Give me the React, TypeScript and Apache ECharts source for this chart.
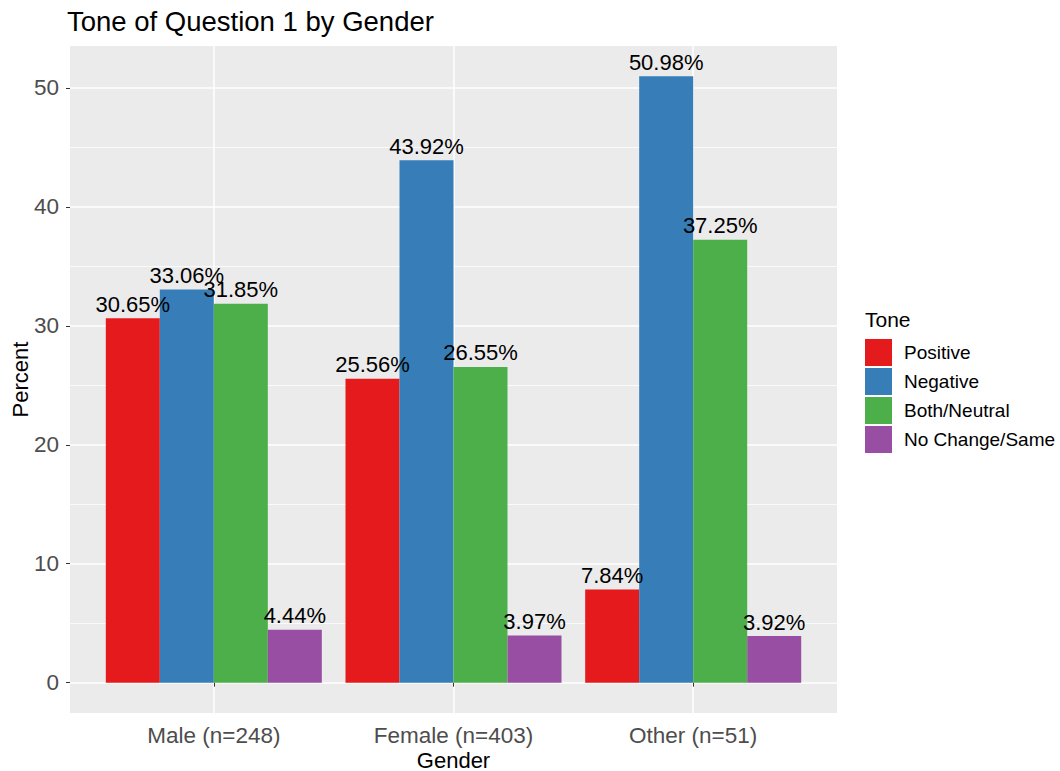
import React, { useEffect, useRef } from "react";
import * as echarts from "echarts";

const categories = ["Male (n=248)", "Female (n=403)", "Other (n=51)"];
const toneNames = ["Positive", "Negative", "Both/Neutral", "No Change/Same"];
const positive = [30.65, 25.56, 7.84];
const negative = [33.06, 43.92, 50.98];
const neutral = [31.85, 26.55, 37.25];
const noChange = [4.44, 3.97, 3.92];
const toneColors = ["#E41A1C", "#377EB8", "#4DAF4A", "#984EA3"];
const yMajor = [0, 10, 20, 30, 40, 50];
const yMinor = [5, 15, 25, 35, 45];
const xPositions = [1, 2, 3];

const FONT = "Liberation Sans, Arial, sans-serif";

export default function App() {
  const ref = useRef<HTMLDivElement>(null);
  useEffect(() => {
    if (!ref.current) return;
    const chart = echarts.init(ref.current, null, { renderer: "svg" });
    const seriesValues = [positive, negative, neutral, noChange];
    const yMin = -2.55;
    const yMax = 53.53;
    chart.setOption({
      animation: false,
      backgroundColor: "#ffffff",
      textStyle: { fontFamily: FONT },
      title: [
        {
          text: "Tone of Question 1 by Gender",
          left: 67,
          top: 7,
          padding: 0,
          textStyle: { fontSize: 27.5, fontWeight: "normal", color: "#000", fontFamily: FONT },
        },
        {
          text: "Tone",
          left: 865,
          top: 309,
          padding: 0,
          textStyle: { fontSize: 21, fontWeight: "normal", color: "#000", fontFamily: FONT },
        },
      ],
      legend: {
        data: toneNames,
        orient: "vertical",
        left: 865,
        top: 339,
        padding: 0,
        icon: "rect",
        itemWidth: 27,
        itemHeight: 27,
        itemGap: 2,
        textStyle: { fontSize: 19, color: "#000", fontFamily: FONT, padding: [0, 0, 0, 7] },
      },
      grid: {
        left: 70,
        right: 223,
        top: 46,
        bottom: 58,
        show: true,
        backgroundColor: "#EBEBEB",
        borderWidth: 0,
        outerBoundsMode: "none",
        containLabel: false,
      },
      xAxis: {
        type: "value",
        min: 0.4,
        max: 3.6,
        axisLine: { show: false },
        axisTick: { show: true, customValues: xPositions, length: 4, lineStyle: { color: "#333333" } },
        axisLabel: {
          customValues: xPositions,
          formatter: (v: number) => categories[Math.round(v) - 1] ?? "",
          fontSize: 22.5,
          color: "#4D4D4D",
          margin: 11,
          fontFamily: FONT,
        },
        splitLine: { show: true, lineStyle: { color: "#ffffff", width: 1.5 } },
        name: "Gender",
        nameLocation: "middle",
        nameGap: 36,
        nameMoveOverlap: false,
        nameTextStyle: { fontSize: 22, color: "#000", fontFamily: FONT },
      },
      yAxis: [
        {
          type: "value",
          min: yMin,
          max: yMax,
          axisLine: { show: false },
          axisTick: { show: true, customValues: yMajor, length: 4, lineStyle: { color: "#333333" } },
          axisLabel: { customValues: yMajor, fontSize: 22.5, color: "#4D4D4D", margin: 11, fontFamily: FONT },
          splitLine: { show: true, lineStyle: { color: "#ffffff", width: 1.5 } },
          name: "Percent",
          nameLocation: "middle",
          nameGap: 39,
          nameMoveOverlap: false,
          nameTextStyle: { fontSize: 22, color: "#000", fontFamily: FONT },
        },
        {
          type: "value",
          min: yMin,
          max: yMax,
          position: "left",
          axisLine: { show: false },
          axisTick: { show: false, customValues: yMinor },
          axisLabel: { show: false, customValues: yMinor },
          splitLine: { show: true, lineStyle: { color: "#ffffff", width: 0.75 } },
        },
      ],
      series: toneNames.map((name, si) => ({
        name,
        type: "bar",
        xAxisIndex: 0,
        yAxisIndex: 0,
        barWidth: 54,
        barGap: "0%",
        itemStyle: { color: toneColors[si] },
        data: seriesValues[si].map((v, i) => [xPositions[i], v]),
        label: {
          show: true,
          position: "top",
          distance: 3,
          fontSize: 22,
          color: "#000",
          fontFamily: FONT,
          formatter: (p: any) => p.value[1].toFixed(2) + "%",
        },
      })),
    });
    return () => chart.dispose();
  }, []);
  return (
    <div
      ref={ref}
      style={{ position: "absolute", left: 0, top: 0, width: 1060, height: 771 }}
    />
  );
}
